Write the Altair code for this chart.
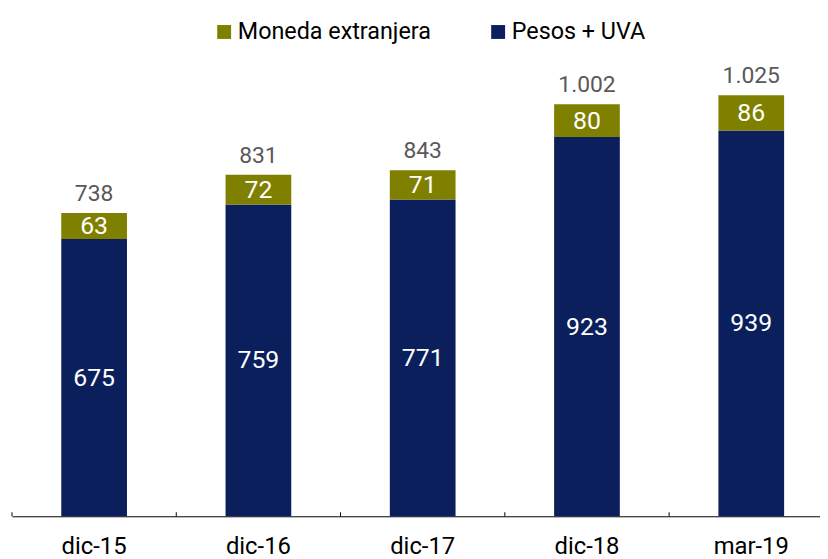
import altair as alt
import pandas as pd

categories = ["dic-15", "dic-16", "dic-17", "dic-18", "mar-19"]
pesos_uva = [675, 759, 771, 923, 939]
moneda_ext = [63, 72, 71, 80, 86]
totals = [738, 831, 843, 1002, 1025]
series_names = ["Moneda extranjera", "Pesos + UVA"]
series_colors = ["#808000", "#0b1f5c"]

rows = []
for c, p, m in zip(categories, pesos_uva, moneda_ext):
    rows.append(dict(cat=c, serie="Pesos + UVA", value=p, ord=0, mid=p / 2))
    rows.append(dict(cat=c, serie="Moneda extranjera", value=m, ord=1, mid=p + m / 2))
df = pd.DataFrame(rows)

tot = pd.DataFrame(dict(
    cat=categories,
    total=[p + m for p, m in zip(pesos_uva, moneda_ext)],
    label=[f"{t:,}".replace(",", ".") for t in totals],
))

FONT = "Roboto"
STEP = 165.5
xscale = alt.Scale(domain=categories, range=[0, 5 * STEP], paddingInner=0.6, paddingOuter=0.3)
yscale = alt.Scale(domain=[0, 1106.5], nice=False, zero=True)

xaxis = alt.Axis(title=None, ticks=False, grid=False, domain=True, domainColor="#000000",
                 domainWidth=1, labelFontSize=24, labelColor="#000000", labelPadding=19,
                 labelFont=FONT, labelAngle=0)

bars = alt.Chart(df).mark_bar().encode(
    x=alt.X("cat:N", scale=xscale, axis=xaxis),
    y=alt.Y("value:Q", stack="zero", scale=yscale, axis=None),
    color=alt.Color("serie:N", scale=alt.Scale(domain=series_names, range=series_colors),
                    legend=alt.Legend(orient="none", legendX=202, legendY=-42,
                                      direction="horizontal", title=None,
                                      symbolType="square", symbolSize=196,
                                      symbolStrokeWidth=0, symbolOpacity=1,
                                      labelFontSize=23.5, labelFont=FONT, labelColor="#000000",
                                      labelLimit=1000,
                                      columnPadding=55, labelOffset=2, padding=0)),
    order=alt.Order("ord:Q"),
)

inner = alt.Chart(df).mark_text(color="white", fontSize=25, font=FONT, baseline="middle").encode(
    x=alt.X("cat:N", scale=xscale, axis=xaxis),
    y=alt.Y("mid:Q", scale=yscale, axis=None),
    text=alt.Text("value:Q"),
)

top = alt.Chart(tot).mark_text(color="#595959", fontSize=23, font=FONT, baseline="bottom", dy=-7).encode(
    x=alt.X("cat:N", scale=xscale, axis=xaxis),
    y=alt.Y("total:Q", scale=yscale, axis=None),
    text=alt.Text("label:N"),
)

ticks = alt.Chart(tot).mark_rule(color="#000000", strokeWidth=1, xOffset=-STEP / 2).encode(
    x=alt.X("cat:N", scale=xscale, axis=xaxis),
    y=alt.value(454),
    y2=alt.value(458),
)

chart = alt.layer(bars, inner, top, ticks).properties(
    width=814, height=458,
    autosize=alt.AutoSizeParams(type="none"),
    padding={"left": 4, "top": 52, "right": 0, "bottom": 41},
).configure(font=FONT).configure_view(stroke="transparent", strokeWidth=0).configure_axisY(
    domain=False, grid=False, ticks=False, labels=False
)

chart.save("out.html", embed_options={"renderer": "svg", "actions": False})
